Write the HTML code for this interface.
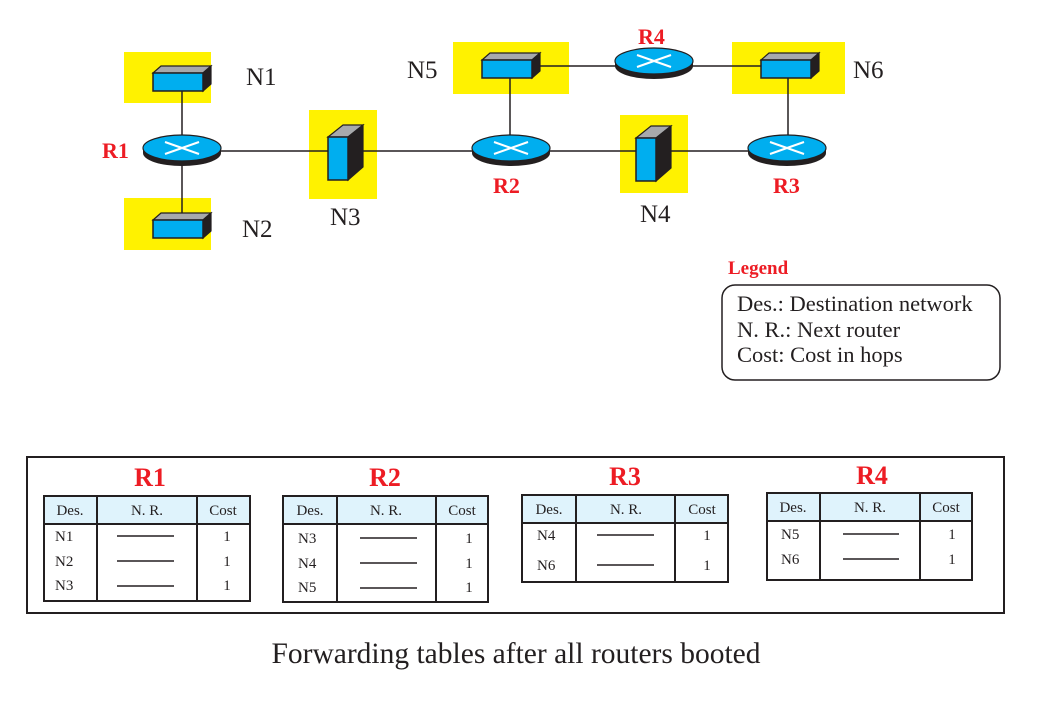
<!DOCTYPE html>
<html><head><meta charset="utf-8"><style>
html,body{margin:0;padding:0;background:#fff;}
svg{display:block;}
.s{font-family:"Liberation Serif",serif;}
.r{font-family:"Liberation Serif",serif;font-weight:bold;fill:#ed1c24;}
</style></head><body>
<svg width="1039" height="712" viewBox="0 0 1039 712" xmlns="http://www.w3.org/2000/svg">
<defs>
<g id="rt">
<ellipse cx="0" cy="5" rx="39" ry="13" fill="#231f20"/>
<rect x="-39" y="0" width="78" height="5" fill="#231f20"/>
<ellipse cx="0" cy="0" rx="39" ry="13" fill="#00aeef" stroke="#231f20" stroke-width="1.2"/>
<line x1="-17" y1="-6" x2="17" y2="6" stroke="#fff" stroke-width="2"/>
<line x1="-17" y1="6" x2="17" y2="-6" stroke="#fff" stroke-width="2"/>
</g>
<g id="hub">
<polygon points="-25,-9 -17,-16 33,-16 25,-9" fill="#a7a9ac" stroke="#231f20" stroke-width="1.2"/>
<polygon points="25,-9 33,-16 33,2 25,9" fill="#231f20" stroke="#231f20" stroke-width="1.2"/>
<rect x="-25" y="-9" width="50" height="18" fill="#00aeef" stroke="#231f20" stroke-width="1.5"/>
</g>
<g id="sw">
<polygon points="0,0 15,-12 35,-12 20,0" fill="#a7a9ac" stroke="#231f20" stroke-width="1.2"/>
<polygon points="20,0 35,-12 35,30 20,43" fill="#231f20" stroke="#231f20" stroke-width="1.2"/>
<rect x="0" y="0" width="20" height="43" fill="#00aeef" stroke="#231f20" stroke-width="1.5"/>
</g>
</defs>

<rect x="124" y="52" width="87" height="51" fill="#fff200"/>
<rect x="124" y="198" width="87" height="52" fill="#fff200"/>
<rect x="309" y="110" width="68" height="89" fill="#fff200"/>
<rect x="453" y="42" width="116" height="52" fill="#fff200"/>
<rect x="732" y="42" width="113" height="52" fill="#fff200"/>
<rect x="620" y="115" width="68" height="78" fill="#fff200"/>

<g stroke="#231f20" stroke-width="1.5">
<line x1="182" y1="88" x2="182" y2="222"/>
<line x1="182" y1="151" x2="510" y2="151"/>
<line x1="510" y1="151" x2="788" y2="151"/>
<line x1="510" y1="70" x2="510" y2="151"/>
<line x1="788" y1="70" x2="788" y2="151"/>
<line x1="507" y1="66" x2="786" y2="66"/>
</g>

<use href="#hub" x="178" y="82"/>
<use href="#hub" x="178" y="229"/>
<use href="#hub" x="507" y="69"/>
<use href="#hub" x="786" y="69"/>
<use href="#sw" x="328" y="137"/>
<use href="#sw" x="636" y="138"/>
<use href="#rt" x="182" y="148"/>
<use href="#rt" x="511" y="148"/>
<use href="#rt" x="787" y="148"/>
<use href="#rt" x="654" y="61"/>

<g class="s" font-size="25" fill="#231f20">
<text x="246" y="85">N1</text>
<text x="242" y="237">N2</text>
<text x="330" y="225">N3</text>
<text x="407" y="78">N5</text>
<text x="853" y="78">N6</text>
<text x="640" y="222">N4</text>
</g>
<g class="r" font-size="22">
<text x="102" y="158">R1</text>
<text x="493" y="193">R2</text>
<text x="773" y="193">R3</text>
<text x="638" y="44">R4</text>
</g>

<text class="r" x="728" y="274" font-size="19">Legend</text>
<rect x="722" y="285" width="278" height="95" rx="13" fill="none" stroke="#231f20" stroke-width="1.5"/>
<g class="s" font-size="22.5" fill="#231f20">
<text x="737" y="311">Des.: Destination network</text>
<text x="737" y="337">N. R.: Next router</text>
<text x="737" y="362">Cost: Cost in hops</text>
</g>

<rect x="27" y="457" width="977" height="156" fill="none" stroke="#231f20" stroke-width="2"/>

<g class="r" font-size="26" text-anchor="middle">
<text x="150" y="486">R1</text>
<text x="385" y="486">R2</text>
<text x="625" y="485">R3</text>
<text x="872" y="484">R4</text>
</g>

<g class="s" font-size="15" fill="#231f20">
<!-- R1 -->
<rect x="44" y="496" width="206" height="28" fill="#dff3fc"/>
<rect x="44" y="496" width="206" height="105" fill="none" stroke="#231f20" stroke-width="2"/>
<line x1="44" y1="524" x2="250" y2="524" stroke="#231f20" stroke-width="2"/>
<line x1="97" y1="496" x2="97" y2="601" stroke="#231f20" stroke-width="2"/>
<line x1="197" y1="496" x2="197" y2="601" stroke="#231f20" stroke-width="2"/>
<text x="70" y="515" text-anchor="middle">Des.</text>
<text x="147" y="515" text-anchor="middle">N. R.</text>
<text x="223" y="515" text-anchor="middle">Cost</text>
<text x="55" y="541">N1</text><text x="55" y="566">N2</text><text x="55" y="590">N3</text>
<text x="227" y="541" text-anchor="middle">1</text><text x="227" y="566" text-anchor="middle">1</text><text x="227" y="590" text-anchor="middle">1</text>
<g stroke="#231f20" stroke-width="1.5"><line x1="117" y1="536" x2="174" y2="536"/><line x1="117" y1="561" x2="174" y2="561"/><line x1="117" y1="586" x2="174" y2="586"/></g>

<!-- R2 -->
<rect x="283" y="496" width="205" height="28" fill="#dff3fc"/>
<rect x="283" y="496" width="205" height="106" fill="none" stroke="#231f20" stroke-width="2"/>
<line x1="283" y1="524" x2="488" y2="524" stroke="#231f20" stroke-width="2"/>
<line x1="337" y1="496" x2="337" y2="602" stroke="#231f20" stroke-width="2"/>
<line x1="436" y1="496" x2="436" y2="602" stroke="#231f20" stroke-width="2"/>
<text x="310" y="515" text-anchor="middle">Des.</text>
<text x="386" y="515" text-anchor="middle">N. R.</text>
<text x="462" y="515" text-anchor="middle">Cost</text>
<text x="298" y="543">N3</text><text x="298" y="568">N4</text><text x="298" y="592">N5</text>
<text x="469" y="543" text-anchor="middle">1</text><text x="469" y="568" text-anchor="middle">1</text><text x="469" y="592" text-anchor="middle">1</text>
<g stroke="#231f20" stroke-width="1.5"><line x1="360" y1="538" x2="417" y2="538"/><line x1="360" y1="563" x2="417" y2="563"/><line x1="360" y1="588" x2="417" y2="588"/></g>

<!-- R3 -->
<rect x="522" y="495" width="206" height="28" fill="#dff3fc"/>
<rect x="522" y="495" width="206" height="87" fill="none" stroke="#231f20" stroke-width="2"/>
<line x1="522" y1="523" x2="728" y2="523" stroke="#231f20" stroke-width="2"/>
<line x1="576" y1="495" x2="576" y2="582" stroke="#231f20" stroke-width="2"/>
<line x1="675" y1="495" x2="675" y2="582" stroke="#231f20" stroke-width="2"/>
<text x="549" y="514" text-anchor="middle">Des.</text>
<text x="626" y="514" text-anchor="middle">N. R.</text>
<text x="702" y="514" text-anchor="middle">Cost</text>
<text x="537" y="540">N4</text><text x="537" y="570">N6</text>
<text x="707" y="540" text-anchor="middle">1</text><text x="707" y="570" text-anchor="middle">1</text>
<g stroke="#231f20" stroke-width="1.5"><line x1="597" y1="535" x2="654" y2="535"/><line x1="597" y1="565" x2="654" y2="565"/></g>

<!-- R4 -->
<rect x="767" y="493" width="205" height="28" fill="#dff3fc"/>
<rect x="767" y="493" width="205" height="87" fill="none" stroke="#231f20" stroke-width="2"/>
<line x1="767" y1="521" x2="972" y2="521" stroke="#231f20" stroke-width="2"/>
<line x1="820" y1="493" x2="820" y2="580" stroke="#231f20" stroke-width="2"/>
<line x1="920" y1="493" x2="920" y2="580" stroke="#231f20" stroke-width="2"/>
<text x="793" y="512" text-anchor="middle">Des.</text>
<text x="870" y="512" text-anchor="middle">N. R.</text>
<text x="946" y="512" text-anchor="middle">Cost</text>
<text x="781" y="539">N5</text><text x="781" y="564">N6</text>
<text x="952" y="539" text-anchor="middle">1</text><text x="952" y="564" text-anchor="middle">1</text>
<g stroke="#231f20" stroke-width="1.5"><line x1="843" y1="534" x2="899" y2="534"/><line x1="843" y1="559" x2="899" y2="559"/></g>
</g>

<text class="s" x="516" y="663" font-size="29.5" text-anchor="middle" fill="#231f20">Forwarding tables after all routers booted</text>
</svg>
</body></html>
